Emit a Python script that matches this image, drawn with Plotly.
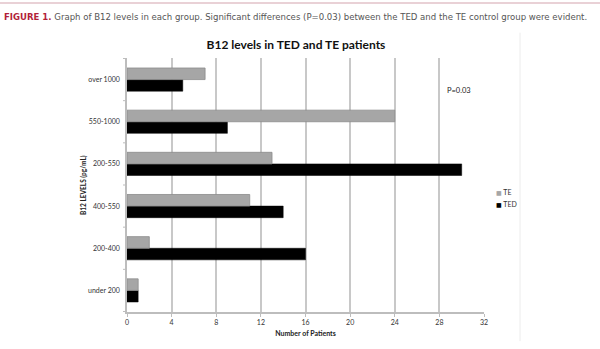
import plotly.graph_objects as go

categories = ["under 200", "200-400", "400-550", "200-550", "550-1000", "over 1000"]
te_values = [1, 2, 11, 13, 24, 7]
ted_values = [1, 16, 14, 30, 9, 5]
x_ticks = [0, 4, 8, 12, 16, 20, 24, 28, 32]
series_names = ["TE", "TED"]
series_colors = ["#a6a6a6", "#000000"]

W, H = 600, 349
L, R, T, B = 127, 116, 58, 30
pw = W - L - R
ph = H - T - B

fig = go.Figure()
fig.add_trace(go.Bar(y=categories, x=ted_values, orientation="h", name="TED", showlegend=False,
                     marker=dict(color="#000000", line=dict(color="#000000", width=0.5))))
fig.add_trace(go.Bar(y=categories, x=te_values, orientation="h", name="TE", showlegend=False,
                     marker=dict(color="#a6a6a6", line=dict(color="#8c8c8c", width=0.8))))

chart_font = "Lato, 'Open Sans', sans-serif"
narrow = "'DejaVu Sans Condensed', 'Liberation Sans Narrow', sans-serif"

fig.update_layout(
    width=W, height=H,
    margin=dict(l=L, r=R, t=T, b=B),
    paper_bgcolor="white", plot_bgcolor="white",
    barmode="group", bargap=0.45, bargroupgap=0,
    font=dict(family=chart_font, size=7, color="#333333"),
    showlegend=False,
    xaxis=dict(range=[0, 32], tickvals=x_ticks, ticktext=[str(v) for v in x_ticks],
               showgrid=True, gridcolor="#c8c8c8", gridwidth=1.5,
               showline=True, linecolor="#bdbdbd", linewidth=1.5,
               ticks="outside", ticklen=3, tickcolor="#bdbdbd",
               tickfont=dict(size=7, color="#333333"), zeroline=False,
               title=dict(text="<b>Number of Patients</b>", font=dict(size=7, color="#222222"),
                          standoff=6)),
    yaxis=dict(type="category", categoryorder="array", categoryarray=categories,
               showgrid=False, showline=True, linecolor="#bdbdbd", linewidth=1.5,
               ticks="", tickfont=dict(size=7, color="#333333"), ticklabelstandoff=4,
               zeroline=False),
    title=dict(text="<b>B12 levels in TED and TE patients</b>", x=296 / W, xanchor="center",
               y=1 - 45 / H, yanchor="middle", font=dict(size=12, color="#111111", family=chart_font)),
)

# legend (compact, like the reference)
for i, (name, col) in enumerate(zip(series_names, series_colors)):
    fig.add_annotation(
        text=f"<span style='color:{col};font-family:DejaVu Sans;font-size:6px'>■</span> {name}",
        xref="paper", yref="paper",
        x=(494 - L) / pw, y=(H - B - (196 + 12 * i)) / ph, xanchor="left",
        yanchor="middle", showarrow=False,
        font=dict(size=7, color="#333333", family=chart_font))

# y-axis ticks at category boundaries
for i in range(len(categories) + 1):
    fig.add_shape(type="line", xref="paper", yref="y", x0=-4 / pw, x1=0,
                  y0=i - 0.5, y1=i - 0.5, line=dict(color="#bdbdbd", width=1))

# y-axis title
fig.add_annotation(text="<b>B12 LEVELS (pg/mL)</b>", xref="paper", yref="paper",
                   x=(83 - L) / pw, y=0.5, textangle=-90, showarrow=False,
                   font=dict(size=6.5, color="#222222"), xanchor="center", yanchor="middle")

# P value annotation
fig.add_annotation(text="P=0.03", xref="x", yref="paper", x=29.8,
                   y=(H - B - 91) / ph, showarrow=False,
                   font=dict(size=7.5, color="#222222"), xanchor="center", yanchor="middle")

# caption
fig.add_annotation(
    text="<b><span style='color:#b21f3a'>FIGURE 1.</span></b> Graph of B12 levels in each group. "
         "Significant differences (P=0.03) between the TED and the TE control group were evident.",
    xref="paper", yref="paper", x=(2 - L) / pw, y=1 + (T - 15) / ph,
    xanchor="left", yanchor="middle", showarrow=False,
    font=dict(size=9.5, color="#555555", family=narrow))

# top decorative line
fig.add_shape(type="line", xref="paper", yref="paper", x0=-L / pw, x1=1 + R / pw,
              y0=1 + (T - 1.5) / ph, y1=1 + (T - 1.5) / ph,
              line=dict(color="#d4a3ad", width=1.2))

# faint chart frame right edge
fig.add_shape(type="line", xref="paper", yref="paper", x0=(520 - L) / pw, x1=(520 - L) / pw,
              y0=-B / ph, y1=1 + (T - 32) / ph,
              line=dict(color="#ececec", width=1))

fig.write_html("out.html")
